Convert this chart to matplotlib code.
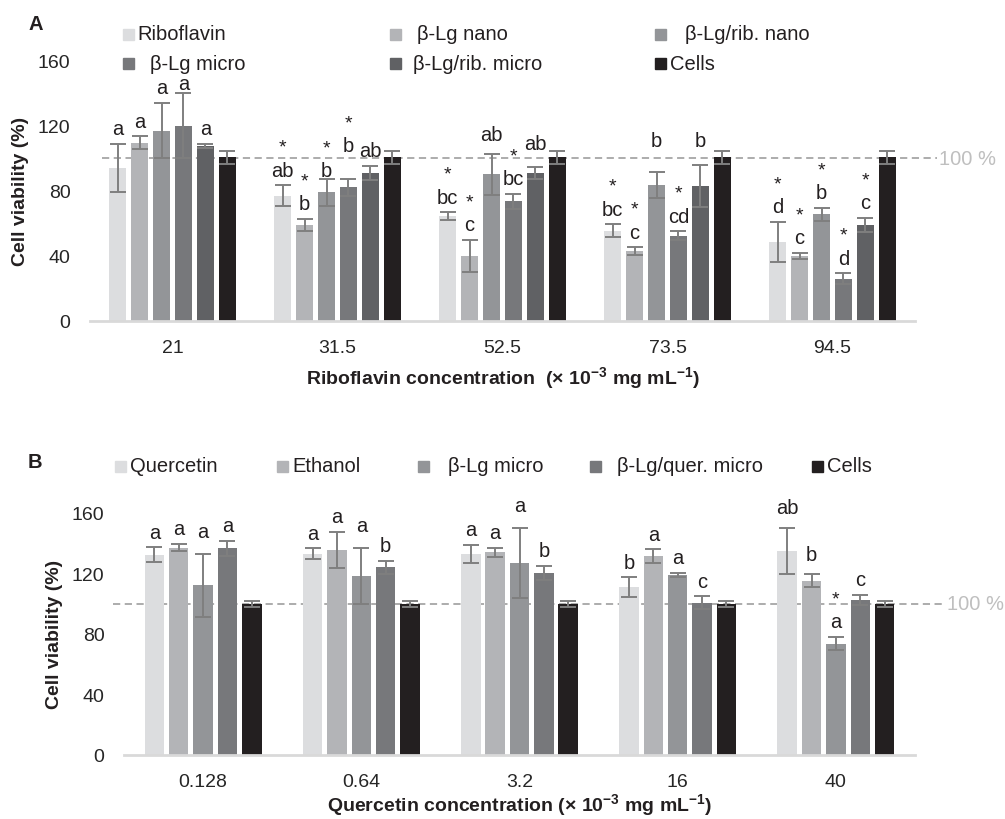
import matplotlib
matplotlib.use('Agg')
import matplotlib.pyplot as plt
from matplotlib.patches import Rectangle
from matplotlib.transforms import blended_transform_factory
import numpy as np

plt.rcParams['font.family'] = ['Liberation Sans', 'DejaVu Sans']
plt.rcParams['mathtext.fontset'] = 'custom'
plt.rcParams['mathtext.rm'] = 'Liberation Sans'
plt.rcParams['mathtext.bf'] = 'Liberation Sans:bold'

# ---- panel A data (riboflavin) ----
rib_conc = ['21', '31.5', '52.5', '73.5', '94.5']
rib_series = ['Riboflavin', 'β-Lg nano', 'β-Lg/rib. nano', 'β-Lg micro', 'β-Lg/rib. micro', 'Cells']
rib_vals = [
    [94, 77, 64.5, 55.5, 48.5],
    [109.5, 59, 40, 43, 40],
    [117, 79, 90, 83.5, 65.5],
    [120, 82, 73.5, 52.5, 26],
    [107.5, 91, 91, 83, 59],
    [100.5, 100.5, 100.5, 100.5, 100.5],
]
rib_err = [
    [15, 6.5, 2.2, 4, 12.5],
    [4, 3.7, 10, 2.4, 1.8],
    [17, 8.5, 12.5, 8.2, 4],
    [20, 5.5, 4.7, 2.5, 3.3],
    [1.5, 4.3, 3.8, 13, 4.3],
    [4, 4, 4, 4, 4],
]
rib_letters = [
    ['a', 'ab', 'bc', 'bc', 'd'],
    ['a', 'b', 'c', 'c', 'c'],
    ['a', 'b', 'ab', 'b', 'b'],
    ['a', 'b', 'bc', 'cd', 'd'],
    ['a', 'ab', 'ab', 'b', 'c'],
    ['', '', '', '', ''],
]
rib_stars = [
    [0, 1, 1, 1, 1],
    [0, 1, 1, 1, 1],
    [0, 1, 0, 0, 1],
    [0, 1, 1, 1, 1],
    [0, 0, 0, 0, 1],
    [0, 0, 0, 0, 0],
]

# ---- panel B data (quercetin) ----
que_conc = ['0.128', '0.64', '3.2', '16', '40']
que_series = ['Quercetin', 'Ethanol', 'β-Lg micro', 'β-Lg/quer. micro', 'Cells']
que_vals = [
    [132.5, 133, 133, 111, 135],
    [137, 135.5, 134, 131.5, 115],
    [112, 118.5, 127, 119, 73.5],
    [136.5, 124, 120.5, 100.5, 102.5],
    [100, 100, 100, 100, 100],
]
que_err = [
    [4.8, 3.5, 6, 6.5, 15.3],
    [2.5, 12, 3, 4.4, 4.3],
    [20.8, 18.5, 23, 1.5, 4.4],
    [5, 4.4, 4.6, 4.3, 3.5],
    [2, 2, 2, 2, 2],
]
que_letters = [
    ['a', 'a', 'a', 'b', 'ab'],
    ['a', 'a', 'a', 'a', 'b'],
    ['a', 'a', 'a', 'a', 'a'],
    ['a', 'b', 'b', 'c', 'c'],
    ['', '', '', '', ''],
]
que_stars = [
    [0, 0, 0, 0, 0],
    [0, 0, 0, 0, 0],
    [0, 0, 0, 0, 1],
    [0, 0, 0, 0, 0],
    [0, 0, 0, 0, 0],
]

rib_colors = ['#dcdddf', '#b3b4b7', '#939598', '#77787b', '#606164', '#231f20']
que_colors = ['#dcdddf', '#b3b4b7', '#939598', '#77787b', '#231f20']

# extra lift (px) for labels that sit higher than the usual gap
rib_lift = {(3, 1): 18, (2, 3): 16, (4, 3): 9, (4, 2): 8, (2, 2): 5, (2, 1): -7, (3, 0): -5}
que_lift = {(2, 0): 8, (2, 1): 7, (2, 2): 8, (0, 4): 5, (1, 4): 5}

W, H = 1005, 820
fig = plt.figure(figsize=(W / 100, H / 100), dpi=100)

TXT = '#231f20'
ERR = '#7f7f7f'


def fig_box(x0, y0, x1, y1):
    return [x0 / W, 1 - y1 / H, (x1 - x0) / W, (y1 - y0) / H]


def draw_panel(ax, conc, series, vals, errs, letters, stars, colors, slot, width, lift):
    n = len(series)
    base = np.arange(len(conc)) + 0.5
    for i in range(n):
        xs = base + (i - (n - 1) / 2) * slot
        ax.bar(xs, vals[i], width=width, color=colors[i], zorder=2)
        ax.errorbar(xs, vals[i], yerr=errs[i], fmt='none', ecolor=ERR,
                    elinewidth=1.4, capsize=5.5, capthick=1.4, zorder=3)
        for j, x in enumerate(xs):
            top = vals[i][j] + errs[i][j]
            gap = 15 + lift.get((i, j), 0)
            if letters[i][j]:
                ax.annotate(letters[i][j], (x, top), xytext=(0, gap * 0.72),
                            textcoords='offset points', ha='center', va='center',
                            fontsize=14.5, color=TXT, zorder=4)
            if stars[i][j]:
                ax.annotate('*', (x, top), xytext=(0, (gap + 23) * 0.72),
                            textcoords='offset points', ha='center', va='center',
                            fontsize=14, color=TXT, zorder=4)
    ax.set_xlim(0, len(conc))
    ax.set_ylim(0, 160)
    ax.set_yticks([0, 40, 80, 120, 160])
    ax.set_xticks(base)
    ax.set_xticklabels(conc)
    for s in ['top', 'right', 'left']:
        ax.spines[s].set_visible(False)
    ax.spines['bottom'].set_color('#d9d9d9')
    ax.spines['bottom'].set_linewidth(2)
    ax.tick_params(axis='both', length=0, labelsize=14, colors='#262626')
    ax.tick_params(axis='y', pad=14)
    ax.tick_params(axis='x', pad=13)
    ax.set_ylabel('Cell viability (%)', fontsize=14, fontweight='bold', color=TXT)


def ref_line(ax, x0, x1, xt):
    tr = blended_transform_factory(ax.transAxes, ax.transData)
    ax.plot([x0, x1], [100, 100], transform=tr, color='#a6a6a6', lw=1.3,
            ls=(0, (4, 2.5)), clip_on=False, zorder=1)
    ax.text(xt, 100, '100 %', transform=tr, color='#bfbfbf', fontsize=14.5,
            va='center', ha='left', clip_on=False)


def legend_row(entries, y):
    for label, color, mx, tx in entries:
        fig.add_artist(Rectangle((mx / W, 1 - (y + 5.5) / H), 11 / W, 11 / H,
                                 transform=fig.transFigure, color=color))
        fig.text(tx / W, 1 - y / H, label, fontsize=14.5, color=TXT, va='center', ha='left')


# ---- panel A ----
axA = fig.add_axes(fig_box(90, 61.5, 915, 322))
draw_panel(axA, rib_conc, rib_series, rib_vals, rib_err, rib_letters, rib_stars,
           rib_colors, 0.1333, 0.107, rib_lift)
ref_line(axA, 0.0145, 1.027, 1.029)
axA.set_xlabel(r'Riboflavin concentration  (× 10$^{\mathbf{-3}}$ mg mL$^{\mathbf{-1}}$)',
               fontsize=14, fontweight='bold', color=TXT)
axA.xaxis.set_label_coords(0.5, -0.165)
axA.yaxis.set_label_coords(-0.074, 0.5)
fig.text(28 / W, 1 - 25 / H, 'A', fontsize=14.5, fontweight='bold', color=TXT, va='center')

rib_mark = [123, 390, 655, 123, 390, 655]
rib_text = [137, 417, 685, 150, 413, 670]
legend_row([(rib_series[k], rib_colors[k], rib_mark[k], rib_text[k]) for k in range(3)], 35)
legend_row([(rib_series[k], rib_colors[k], rib_mark[k], rib_text[k]) for k in range(3, 6)], 64)

# ---- panel B ----
axB = fig.add_axes(fig_box(124, 514, 915, 755.5))
draw_panel(axB, que_conc, que_series, que_vals, que_err, que_letters, que_stars,
           que_colors, 0.154, 0.123, que_lift)
ref_line(axB, -0.014, 1.035, 1.04)
axB.set_xlabel(r'Quercetin concentration (× 10$^{\mathbf{-3}}$ mg mL$^{\mathbf{-1}}$)',
               fontsize=14, fontweight='bold', color=TXT)
axB.xaxis.set_label_coords(0.5, -0.152)
axB.yaxis.set_label_coords(-0.077, 0.5)
fig.text(28 / W, 1 - 463 / H, 'B', fontsize=14.5, fontweight='bold', color=TXT, va='center')

que_mark = [115, 277, 418, 590, 812]
que_text = [130, 292, 448, 617, 827]
legend_row([(que_series[k], que_colors[k], que_mark[k], que_text[k]) for k in range(5)], 467)

fig.savefig('out.png', dpi=100)
